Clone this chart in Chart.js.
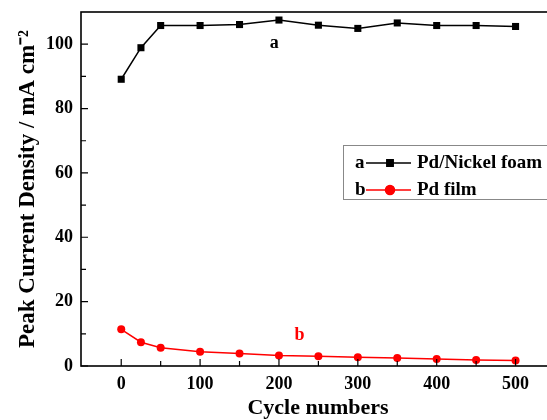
<!DOCTYPE html>
<html><head><meta charset="utf-8">
<script src="https://cdn.jsdelivr.net/npm/chart.js@4/dist/chart.umd.min.js"></script>
<style>html,body{margin:0;padding:0;overflow:hidden;background:#fff}#wrap{width:560px;height:420px}</style>
</head><body><div id="wrap"><canvas id="c" width="560" height="420"></canvas></div>
<script>
const cycles = [0, 25, 50, 100, 150, 200, 250, 300, 350, 400, 450, 500];
const pdNickelFoam = [89.1, 98.9, 105.8, 105.8, 106.1, 107.5, 105.9, 104.9, 106.6, 105.8, 105.8, 105.5];
const pdFilm = [11.4, 7.4, 5.7, 4.4, 3.9, 3.3, 3.0, 2.7, 2.5, 2.2, 1.9, 1.7];
const seriesKeys = ['a', 'b'];
const seriesLabels = ['Pd/Nickel foam', 'Pd film'];
const xTicks = [0, 100, 200, 300, 400, 500];
const xMinor = [50, 150, 250, 350, 450];
const yTicks = [0, 20, 40, 60, 80, 100];
const yMinor = [10, 30, 50, 70, 90];
const xTitle = 'Cycle numbers';
const yTitle = 'Peak Current Density / mA cm\u207B\u00B2';
const curveLabels = [{text: 'a', x: 194, y: 100.2}, {text: 'b', x: 226, y: 9.6}];

const FONT = "'Liberation Serif', 'Times New Roman', serif";
const colors = ['#000000', '#ff0000'];
const styles = ['rect', 'circle'];

const frame = {
  id: 'frame',
  afterDraw(chart) {
    const {ctx, chartArea: a, scales: {x, y}} = chart;
    ctx.save();
    ctx.strokeStyle = '#000'; ctx.lineWidth = 1.6;
    ctx.strokeRect(a.left, a.top, a.right - a.left, a.bottom - a.top);
    ctx.lineWidth = 1.2;
    ctx.beginPath();
    xTicks.forEach(v => { const p = x.getPixelForValue(v); ctx.moveTo(p, a.bottom); ctx.lineTo(p, a.bottom - 7); });
    xMinor.forEach(v => { const p = x.getPixelForValue(v); ctx.moveTo(p, a.bottom); ctx.lineTo(p, a.bottom - 5); });
    yTicks.forEach(v => { const p = y.getPixelForValue(v); ctx.moveTo(a.left, p); ctx.lineTo(a.left + 7, p); });
    yMinor.forEach(v => { const p = y.getPixelForValue(v); ctx.moveTo(a.left, p); ctx.lineTo(a.left + 5, p); });
    ctx.stroke();
    ctx.textAlign = 'center'; ctx.textBaseline = 'middle';
    curveLabels.forEach((c, i) => {
      ctx.fillStyle = colors[i];
      ctx.font = 'bold 18px ' + FONT;
      ctx.fillText(c.text, x.getPixelForValue(c.x), y.getPixelForValue(c.y));
    });
    const bx = 343, by = 145, bh = 54;
    ctx.fillStyle = '#fff';
    ctx.fillRect(bx, by, 300, bh);
    ctx.strokeStyle = '#888'; ctx.lineWidth = 1;
    ctx.strokeRect(bx + 0.5, by + 0.5, 300, bh);
    const rows = [163, 190];
    seriesLabels.forEach((lab, i) => {
      const ry = rows[i];
      ctx.fillStyle = '#000';
      ctx.font = 'bold 19px ' + FONT;
      ctx.textAlign = 'left'; ctx.textBaseline = 'middle';
      ctx.fillText(seriesKeys[i], 355, ry);
      ctx.strokeStyle = colors[i]; ctx.lineWidth = 1.5;
      ctx.beginPath(); ctx.moveTo(366, ry); ctx.lineTo(411, ry); ctx.stroke();
      Chart.helpers.drawPoint(ctx, {pointStyle: styles[i], radius: 4.5, borderWidth: 1}, 390, ry);
      ctx.fillStyle = colors[i];
      ctx.fill();
      ctx.fillStyle = '#000';
      ctx.fillText(lab, 417, ry);
    });
    ctx.restore();
  }
};

new Chart(document.getElementById('c'), {
  type: 'line',
  data: {
    datasets: [pdNickelFoam, pdFilm].map((vals, i) => ({
      label: seriesLabels[i],
      data: cycles.map((c, j) => ({x: c, y: vals[j]})),
      borderColor: colors[i],
      backgroundColor: colors[i],
      borderWidth: 1.5,
      pointStyle: styles[i],
      pointRadius: styles[i] === 'rect' ? 5 : 4,
      pointBorderWidth: 0,
      tension: 0,
      clip: false
    }))
  },
  options: {
    responsive: false,
    devicePixelRatio: 1,
    animation: false,
    layout: {padding: {top: 12, right: 3, left: 0, bottom: 0}},
    plugins: {legend: {display: false}, tooltip: {enabled: false}},
    scales: {
      x: {
        type: 'linear', min: -51, max: 550,
        afterBuildTicks: s => { s.ticks = xTicks.map(v => ({value: v})); },
        afterFit: s => { s.height = 54; s.paddingLeft = 0; s.paddingRight = 0; },
        grid: {display: false, drawTicks: false},
        border: {display: false},
        ticks: {color: '#000', padding: 8, font: {family: FONT, size: 18, weight: 'bold'}, maxRotation: 0},
        title: {display: true, text: xTitle, color: '#000', font: {family: FONT, size: 22, weight: 'bold', lineHeight: 1.1}, padding: {top: 0, bottom: 0}}
      },
      y: {
        min: 0, max: 110,
        afterBuildTicks: s => { s.ticks = yTicks.map(v => ({value: v})); },
        afterFit: s => { s.width = 81; s.paddingTop = 0; s.paddingBottom = 0; },
        grid: {display: false, drawTicks: false},
        border: {display: false},
        ticks: {color: '#000', padding: 8, font: {family: FONT, size: 18, weight: 'bold'}},
        title: {display: true, text: yTitle, color: '#000', font: {family: FONT, size: 23, weight: 'bold', lineHeight: 1.2}, padding: {top: 14, bottom: 0}}
      }
    }
  },
  plugins: [frame]
});
</script></body></html>
